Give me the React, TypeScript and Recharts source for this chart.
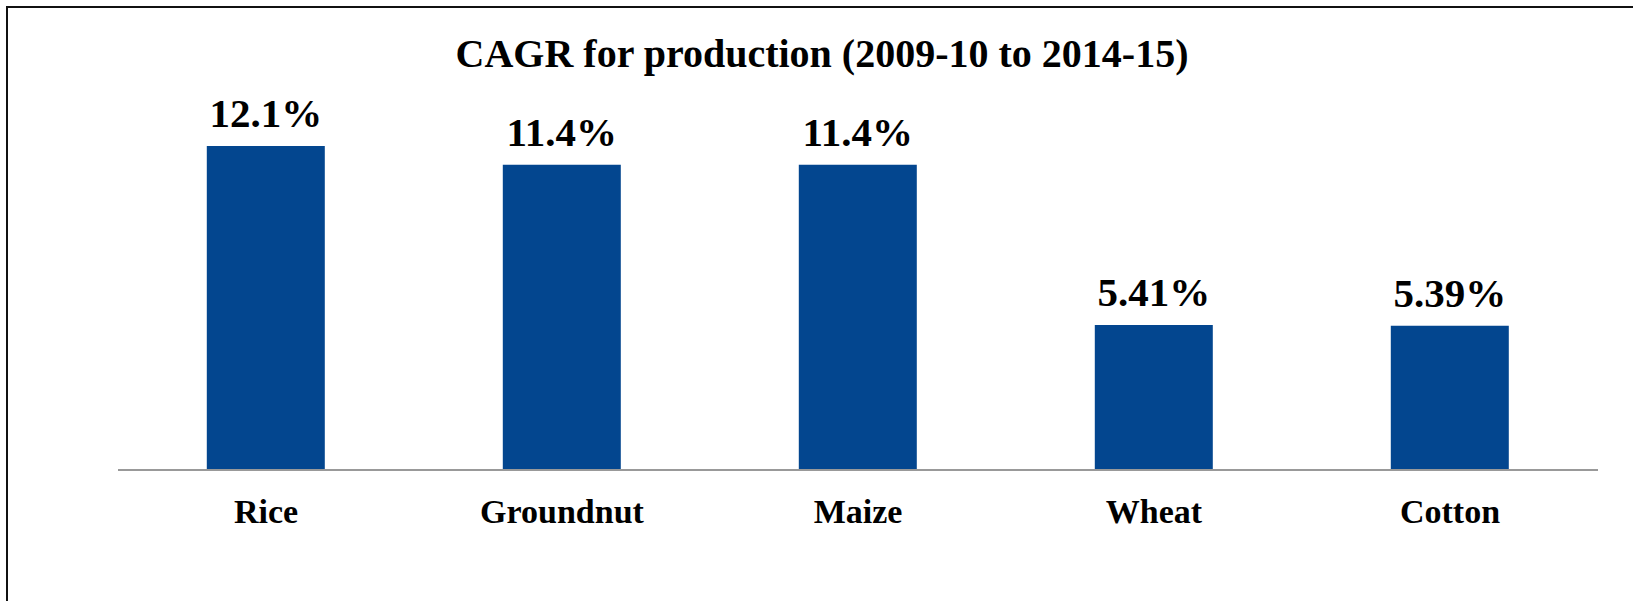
import React from "react";
import { Bar, BarChart, LabelList, XAxis, YAxis } from "recharts";

const crops = ["Rice", "Groundnut", "Maize", "Wheat", "Cotton"];
const cagr = [12.1, 11.4, 11.4, 5.41, 5.39];
const labels = ["12.1%", "11.4%", "11.4%", "5.41%", "5.39%"];

const data = crops.map((crop, i) => ({ crop, value: cagr[i], label: labels[i] }));

const FONT = '"Liberation Serif", "Times New Roman", serif';

export default function App() {
  return (
    <div
      style={{
        position: "fixed",
        left: 0,
        top: 0,
        width: 1633,
        height: 601,
        background: "#fff",
        overflow: "hidden",
      }}
    >
      <div
        style={{
          position: "absolute",
          left: 6,
          top: 6,
          width: 1660,
          height: 620,
          border: "2px solid #111",
          boxSizing: "border-box",
        }}
      />
      <svg
        width={1633}
        height={100}
        style={{ position: "absolute", left: 0, top: 0 }}
      >
        <text
          x={822}
          y={67}
          textAnchor="middle"
          fontFamily={FONT}
          fontWeight="bold"
          fontSize={40}
          fill="#000"
        >
          CAGR for production (2009-10 to 2014-15)
        </text>
      </svg>
      <div style={{ position: "absolute", left: 0, top: 0 }}>
        <BarChart
          width={1633}
          height={601}
          data={data}
          margin={{ top: 95, right: 35, left: 118, bottom: 71 }}
          barCategoryGap="30%"
        >
          <XAxis
            dataKey="crop"
            height={60}
            tickLine={false}
            tickMargin={23}
            axisLine={{ stroke: "#999", strokeWidth: 2 }}
            tick={{ fill: "#000", fontSize: 34, fontWeight: "bold", fontFamily: FONT }}
            interval={0}
          />
          <YAxis hide domain={[0, 14]} width={0} />
          <Bar dataKey="value" fill="#03468F" isAnimationActive={false}>
            <LabelList
              dataKey="label"
              position="top"
              offset={19}
              fill="#000"
              fontSize={41}
              fontWeight="bold"
              fontFamily={FONT}
            />
          </Bar>
        </BarChart>
      </div>
    </div>
  );
}
